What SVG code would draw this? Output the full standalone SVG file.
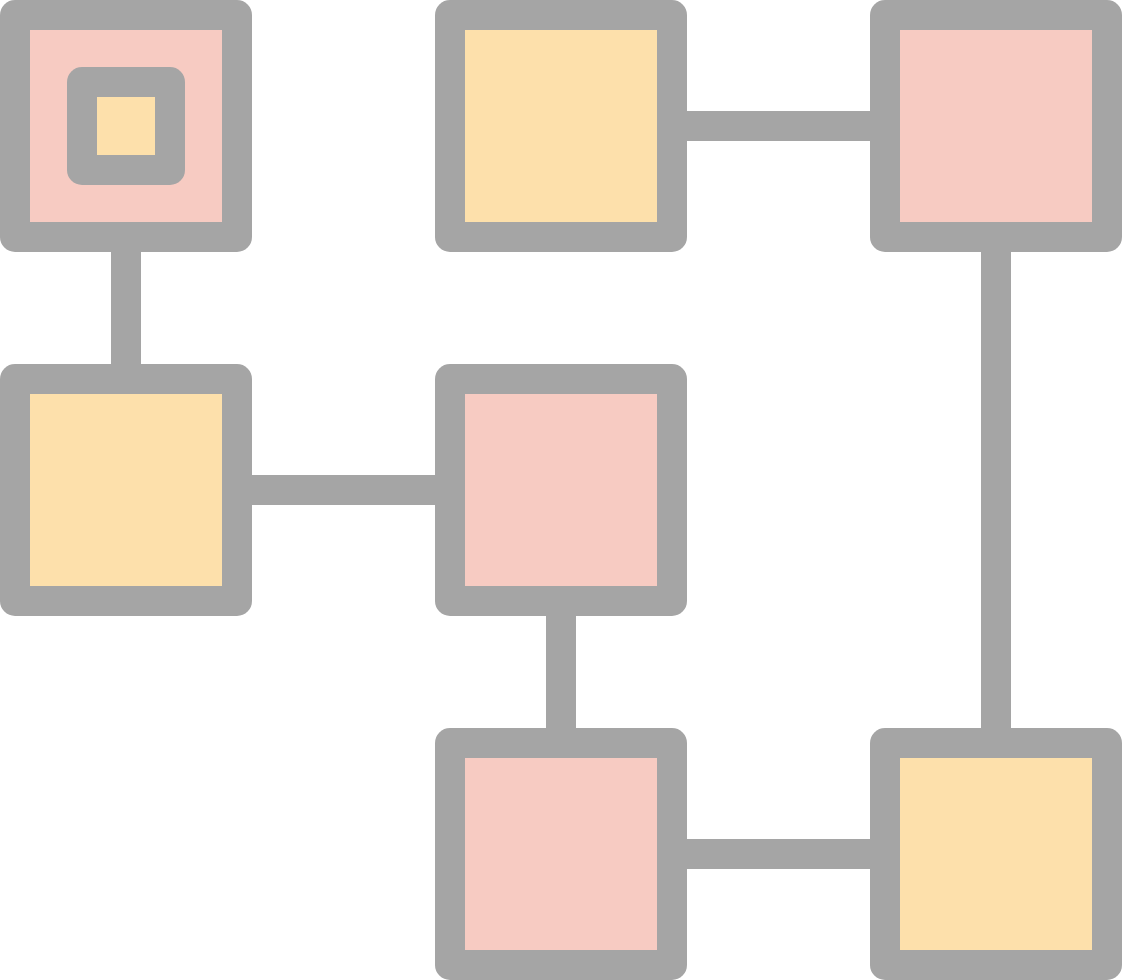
<svg xmlns="http://www.w3.org/2000/svg" width="1122" height="980" viewBox="0 0 1122 980">
<style>
.frame{fill:#a5a5a5}
.pink{fill:#f7cbc2}
.yellow{fill:#fde0ab}
.conn{fill:#a5a5a5}
</style>
<rect width="1122" height="980" fill="#ffffff"/>
<g id="connectors">
<rect class="conn" x="680" y="111" width="197" height="30"/>
<rect class="conn" x="111" y="245" width="30" height="126"/>
<rect class="conn" x="245" y="475" width="197" height="30"/>
<rect class="conn" x="546" y="609" width="30" height="126"/>
<rect class="conn" x="981" y="245" width="30" height="490"/>
<rect class="conn" x="680" y="839" width="197" height="30"/>
</g>
<g id="node1">
<rect class="frame" x="0" y="0" width="252" height="252" rx="15"/>
<rect class="pink" x="30" y="30" width="192" height="192"/>
<rect class="frame" x="67" y="67" width="118" height="118" rx="15"/>
<rect class="yellow" x="97" y="97" width="58" height="58"/>
</g>
<g id="node2">
<rect class="frame" x="435" y="0" width="252" height="252" rx="15"/>
<rect class="yellow" x="465" y="30" width="192" height="192"/>
</g>
<g id="node3">
<rect class="frame" x="870" y="0" width="252" height="252" rx="15"/>
<rect class="pink" x="900" y="30" width="192" height="192"/>
</g>
<g id="node4">
<rect class="frame" x="0" y="364" width="252" height="252" rx="15"/>
<rect class="yellow" x="30" y="394" width="192" height="192"/>
</g>
<g id="node5">
<rect class="frame" x="435" y="364" width="252" height="252" rx="15"/>
<rect class="pink" x="465" y="394" width="192" height="192"/>
</g>
<g id="node6">
<rect class="frame" x="435" y="728" width="252" height="252" rx="15"/>
<rect class="pink" x="465" y="758" width="192" height="192"/>
</g>
<g id="node7">
<rect class="frame" x="870" y="728" width="252" height="252" rx="15"/>
<rect class="yellow" x="900" y="758" width="192" height="192"/>
</g>
</svg>
